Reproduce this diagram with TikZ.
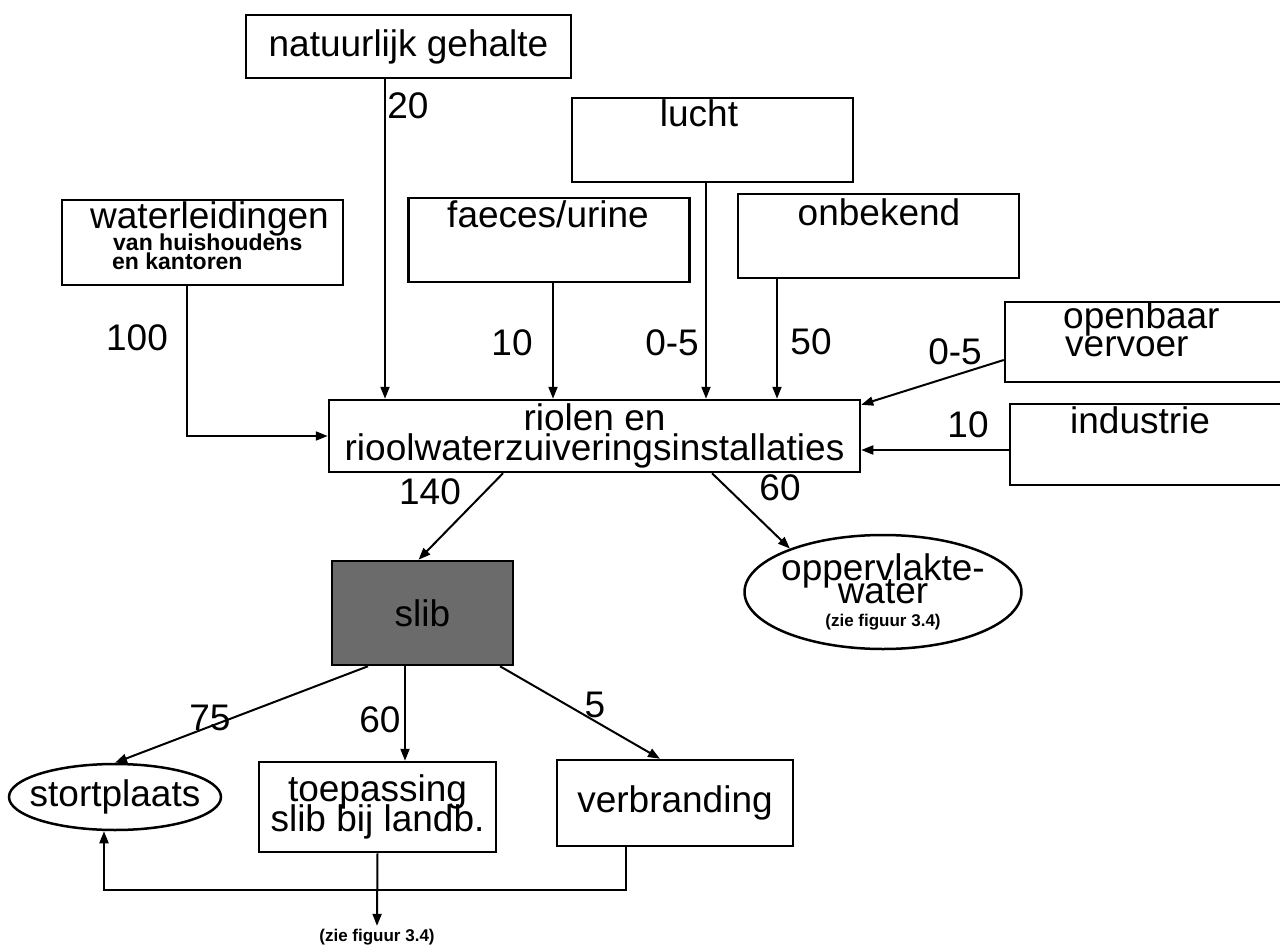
\documentclass[tikz,border=0pt]{standalone}
\usepackage{fontspec}
\setmainfont{Liberation Sans}
\usetikzlibrary{positioning,arrows.meta,shapes.geometric}
\setlength{\lineskiplimit}{-100pt}

\begin{document}
\begin{tikzpicture}[
      x=1pt, y=-1pt,
      font=\fontsize{37}{30}\selectfont,
      box/.style={draw, line width=2.5pt, minimum width=281pt, minimum height=84pt,
                  inner sep=0pt, align=center},
      oval/.style={draw, line width=2.5pt, ellipse, inner sep=0pt, align=center},
      txt/.style={inner sep=0pt},
      sub/.style={inner sep=0pt, font=\bfseries\fontsize{23}{20}\selectfont},
      note/.style={inner sep=0pt, font=\bfseries\fontsize{17}{18}\selectfont},
      num/.style={inner sep=0pt},
      arr/.style={-{Triangle[length=12pt,width=9pt]}, line width=2pt}
    ]
    \useasboundingbox (0,0) rectangle (1280,947);

    % sources
    \node[box, minimum width=325pt, minimum height=63pt] (nat) at (408.5,46.5) {natuurlijk gehalte};
    \node[box] (lucht) at (712.5,140) {};
    \node[txt, anchor=base] (luchtT) at (699,127) {lucht};
    \node[box, minimum height=85pt] (water) at (202.5,242.5) {};
    \node[txt, anchor=base west] (waterT1) at (90,228) {waterleidingen};
    \node[sub, anchor=base west] (waterT2) at (113,250) {van huishoudens};
    \node[sub, anchor=base west] (waterT3) at (112,269) {en kantoren};
    \node[box] (faeces) at (549,240) {};
    \node[txt, anchor=base] (faecesT) at (548,227) {faeces/urine};
    \node[box] (onb) at (878.5,236) {};
    \node[txt, anchor=base] (onbT) at (879,225) {onbekend};
    \node[box, minimum height=80pt] (opv) at (1145.5,342) {};
    \node[txt, anchor=base west] (opvT1) at (1063,328) {openbaar};
    \node[txt, anchor=base west] (opvT2) at (1065,356) {vervoer};
    \node[box, minimum height=81pt] (ind) at (1150.5,444.5) {};
    \node[txt, anchor=base west] (indT) at (1070,433) {industrie};

    % sewer
    \node[box, minimum width=531pt, minimum height=72pt] (riolen) at (594.5,436)
         {riolen en\\rioolwaterzuiveringsinstallaties};
    \draw[arr] ([xshift=-23.5pt]nat.south) -- ([xshift=-23.5pt]nat.south |- riolen.north);
    \draw[arr] ([xshift=-6.5pt]lucht.south) -- ([xshift=-6.5pt]lucht.south |- riolen.north);
    \draw[arr] ([xshift=4pt]faeces.south) -- ([xshift=4pt]faeces.south |- riolen.north);
    \draw[arr] ([xshift=-101.5pt]onb.south) -- ([xshift=-101.5pt]onb.south |- riolen.north);
    \draw[arr] ([xshift=-15.5pt]water.south) |- (riolen.west);
    \draw[arr] ([yshift=-18pt]opv.west) -- ([yshift=-6pt]riolen.north east);
    \draw[arr] ([yshift=-5.5pt]ind.west) -- ([yshift=-5.5pt]ind.west -| riolen.east);

    \node[num] (n20) at (408,106) {20};
    \node[num] (n100) at (137,338) {100};
    \node[num] (n10a) at (512,343) {10};
    \node[num] (n05a) at (672,343) {0-5};
    \node[num] (n50) at (811,342) {50};
    \node[num] (n05b) at (955,352) {0-5};
    \node[num] (n10b) at (968,425) {10};

    % sludge and surface water
    \node[box, minimum width=181pt, minimum height=104pt, fill=black!58] (slib) at (422.5,613) {slib};
    \node[oval, inner xsep=-4pt, minimum width=277pt, minimum height=114pt,
          font=\fontsize{37}{23}\selectfont] (opp) at (883,592)
         {oppervlakte-\\water\\{\bfseries\fontsize{17}{18}\selectfont (zie figuur 3.4)}};
    \draw[arr] ([xshift=-91.5pt]riolen.south) -- ([xshift=-4pt]slib.north);
    \draw[arr] ([xshift=117.5pt]riolen.south) -- (opp.155);
    \node[num] (n140) at (430,492) {140};
    \node[num] (n60a) at (780,488) {60};

    % destinations
    \node[oval, inner xsep=-11pt, minimum width=212pt, minimum height=66pt] (stort) at (115,797) {stortplaats};
    \node[box, minimum width=237pt, minimum height=90pt] (toep) at (377.5,807) {toepassing\\slib bij landb.};
    \node[box, minimum width=236pt, minimum height=86pt] (verbr) at (675,803) {verbranding};
    \draw[arr] ([xshift=-54.5pt]slib.south) -- (stort.north);
    \draw[arr] ([xshift=-17.5pt]slib.south) -- ([xshift=-17.5pt]slib.south |- toep.north);
    \draw[arr] ([xshift=77.5pt]slib.south) -- ([xshift=-15pt]verbr.north);
    \node[num] (n75) at (210,718) {75};
    \node[num] (n60b) at (380,720) {60};
    \node[num] (n5) at (595,705) {5};

    \coordinate (loop) at (0,890);
    \draw[arr] ([xshift=-49pt]verbr.south) |- ([xshift=-11pt]stort.south |- loop) -- ([xshift=-11pt]stort.south);
    \node[note] (zieT) at (377,937) {(zie figuur 3.4)};
    \draw[arr] (toep.south) -- ([yshift=3pt]zieT.north);
  \end{tikzpicture}
\end{document}
